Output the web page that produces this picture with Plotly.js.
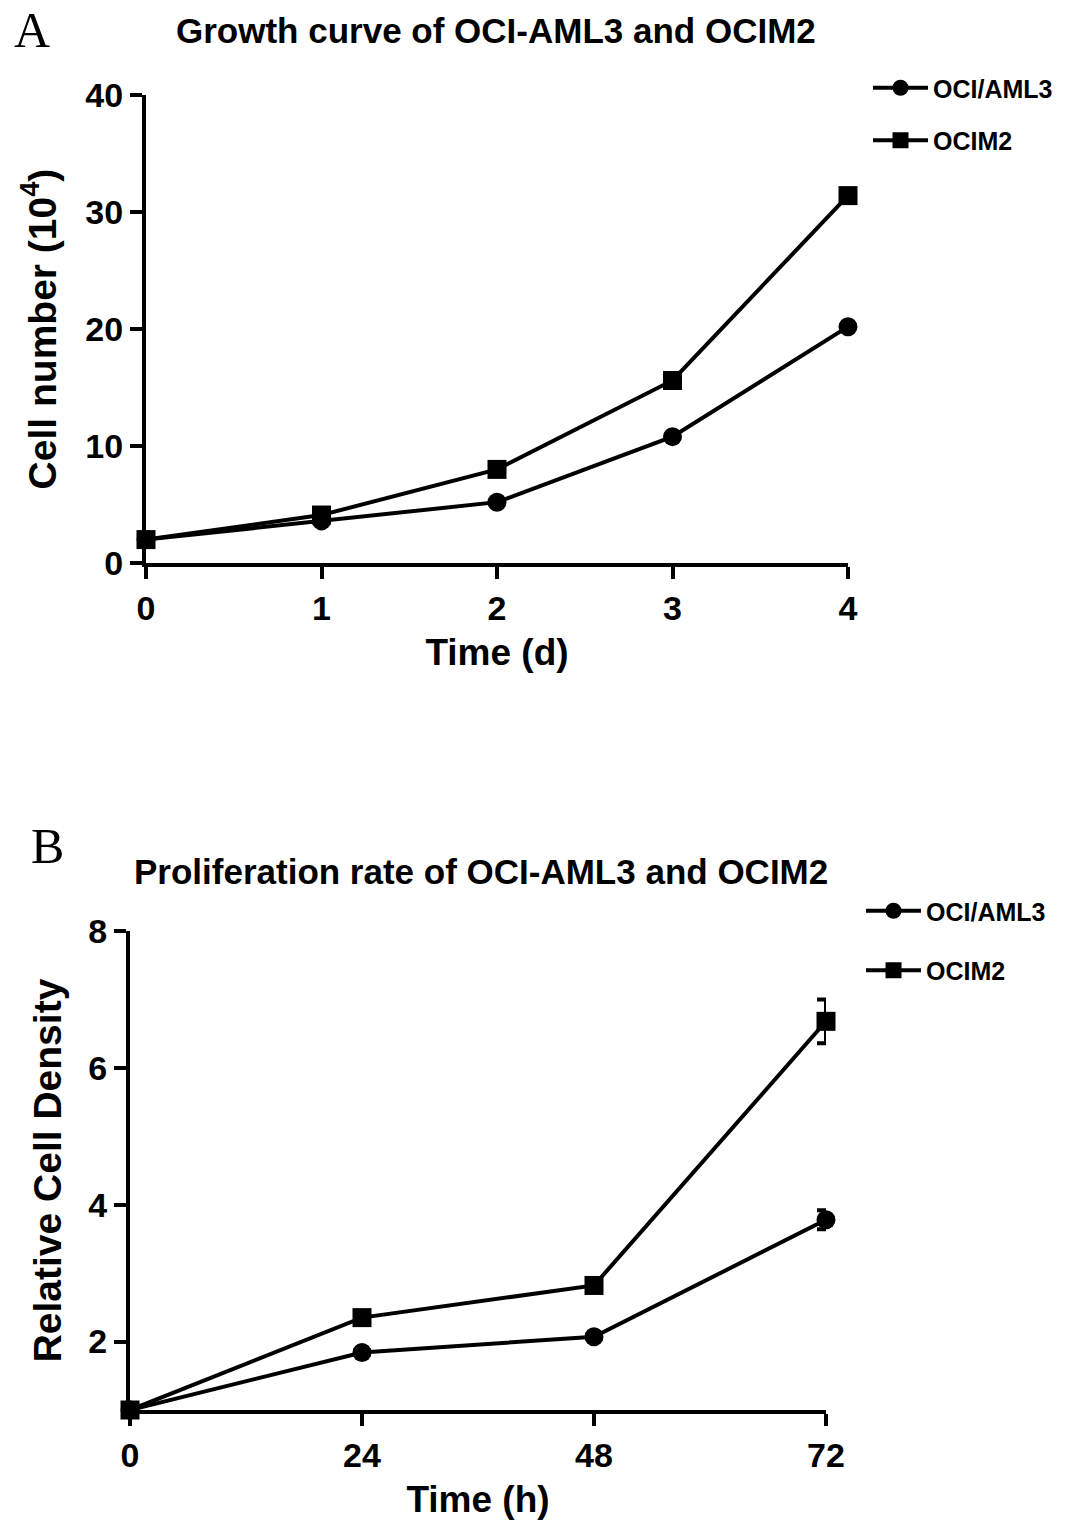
<!DOCTYPE html>
<html>
<head>
<meta charset="utf-8">
<script src="https://cdn.plot.ly/plotly-3.0.1.min.js"></script>
<style>
  html, body { margin: 0; padding: 0; background: #fff; }
  #chart { width: 1087px; height: 1535px; }
</style>
</head>
<body>
<div id="chart"></div>
<script>
// panel A: growth curve, cell number (10^4) per day
var days = [0, 1, 2, 3, 4];
var aml3Cells = [2.0, 3.6, 5.2, 10.8, 20.2];
var ocim2Cells = [2.0, 4.1, 8.0, 15.6, 31.4];

// panel B: relative cell density per hour
var hours = [0, 24, 48, 72];
var aml3Density = [1.0, 1.84, 2.07, 3.78];
var aml3DensityErr = [0, 0.03, 0.03, 0.14];
var ocim2Density = [1.0, 2.35, 2.82, 6.68];
var ocim2DensityErr = [0, 0.04, 0.05, 0.32];

var seriesNames = ['OCI/AML3', 'OCIM2'];

var fontSans = 'Liberation Sans, Arial, sans-serif';

function lineTrace(x, y, name, symbol, xa, ya, leg, err) {
    var t = {
        type: 'scatter',
        mode: 'lines+markers',
        name: name,
        x: x,
        y: y,
        xaxis: xa,
        yaxis: ya,
        legend: leg,
        legendgroup: leg + name,
        cliponaxis: false,
        line: {color: '#000', width: 4},
        marker: {color: '#000', symbol: symbol, size: 19}
    };
    if (err) {
        t.error_y = {type: 'data', array: err, visible: true, color: '#000', thickness: 4, width: 9};
    }
    return t;
}

var data = [
    lineTrace(days, aml3Cells, seriesNames[0], 'circle', 'x', 'y', 'legend'),
    lineTrace(days, ocim2Cells, seriesNames[1], 'square', 'x', 'y', 'legend'),
    lineTrace(hours, aml3Density, seriesNames[0], 'circle', 'x2', 'y2', 'legend2', aml3DensityErr),
    lineTrace(hours, ocim2Density, seriesNames[1], 'square', 'x2', 'y2', 'legend2', ocim2DensityErr)
];

var axisStyle = {
    showgrid: false,
    zeroline: false,
    showline: true,
    linecolor: '#000',
    linewidth: 4,
    ticks: 'outside',
    ticklen: 12,
    tickwidth: 4,
    tickcolor: '#000',
    tickfont: {family: fontSans, size: 34, color: '#000', weight: 'bold'}
};

function axis(extra) {
    return Object.assign({}, axisStyle, extra);
}

var xTitleFont = {family: fontSans, size: 37, color: '#000', weight: 'bold'};
var yTitleFont = {family: fontSans, size: 39, color: '#000', weight: 'bold'};

var legendStyle = {
    xanchor: 'left',
    yanchor: 'top',
    bgcolor: 'rgba(0,0,0,0)',
    font: {family: fontSans, size: 25, color: '#000', weight: 'bold'},
    itemwidth: 55,
    tracegroupgap: 17,
    traceorder: 'grouped'
};

var layout = {
    width: 1087,
    height: 1535,
    margin: {l: 0, r: 0, t: 0, b: 0},
    paper_bgcolor: '#fff',
    plot_bgcolor: '#fff',
    showlegend: true,
    xaxis: axis({
        domain: [146 / 1087, 848 / 1087],
        range: [0, 4],
        tickvals: days,
        anchor: 'y',
        title: {text: 'Time (d)', font: xTitleFont, standoff: 14}
    }),
    yaxis: axis({
        domain: [1 - 563 / 1535, 1 - 95 / 1535],
        range: [0, 40],
        dtick: 10,
        anchor: 'x',
        title: {text: 'Cell number (10<sup>4</sup>)', font: yTitleFont, standoff: 18}
    }),
    xaxis2: axis({
        domain: [130 / 1087, 826 / 1087],
        range: [0, 72],
        tickvals: hours,
        anchor: 'y2',
        title: {text: 'Time (h)', font: xTitleFont, standoff: 14}
    }),
    yaxis2: axis({
        domain: [1 - 1410 / 1535, 1 - 931 / 1535],
        range: [1, 8],
        tick0: 0,
        dtick: 2,
        anchor: 'x2',
        title: {text: 'Relative Cell Density', font: yTitleFont, standoff: 16}
    }),
    legend: Object.assign({}, legendStyle, {x: 868 / 1087, y: 1 - 65 / 1535}),
    legend2: Object.assign({}, legendStyle, {x: 861 / 1087, y: 1 - 888 / 1535, tracegroupgap: 24}),
    annotations: [
        {text: 'A', xref: 'paper', yref: 'paper', x: 32 / 1087, y: 1 - 30 / 1535,
         xanchor: 'center', yanchor: 'middle', showarrow: false,
         font: {family: 'Liberation Serif, Times New Roman, serif', size: 50, color: '#000'}},
        {text: 'Growth curve of OCI-AML3 and OCIM2', xref: 'paper', yref: 'paper',
         x: 496 / 1087, y: 1 - 30 / 1535, xanchor: 'center', yanchor: 'middle', showarrow: false,
         font: {family: fontSans, size: 35, color: '#000', weight: 'bold'}},
        {text: 'B', xref: 'paper', yref: 'paper', x: 47 / 1087, y: 1 - 846 / 1535,
         xanchor: 'center', yanchor: 'middle', showarrow: false,
         font: {family: 'Liberation Serif, Times New Roman, serif', size: 50, color: '#000'}},
        {text: 'Proliferation rate of OCI-AML3 and OCIM2', xref: 'paper', yref: 'paper',
         x: 481 / 1087, y: 1 - 871 / 1535, xanchor: 'center', yanchor: 'middle', showarrow: false,
         font: {family: fontSans, size: 35, color: '#000', weight: 'bold'}}
    ]
};

var config = {staticPlot: true, displayModeBar: false};

Plotly.newPlot('chart', data, layout, config);
</script>
</body>
</html>
